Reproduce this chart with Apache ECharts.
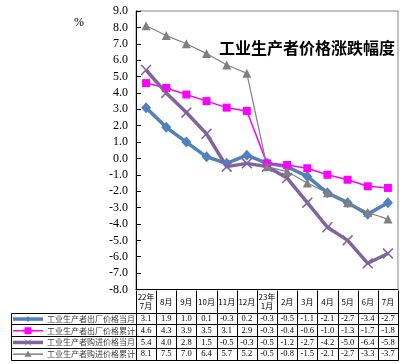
<!DOCTYPE html>
<html><head><meta charset="utf-8">
<script src="https://cdn.jsdelivr.net/npm/echarts@6/dist/echarts.min.js"></script>
<style>html,body{margin:0;padding:0;background:#fff}#c{width:402px;height:364px}</style>
</head><body><div id="c"></div>
<script>
const categories = ['22年\n7月','8月','9月','10月','11月','12月','23年\n1月','2月','3月','4月','5月','6月','7月'];
const seriesNames = ['工业生产者出厂价格当月','工业生产者出厂价格累计','工业生产者购进价格当月','工业生产者购进价格累计'];
const ppiMonthly   = [3.1, 1.9, 1.0, 0.1, -0.3, 0.2, -0.3, -0.5, -1.1, -2.1, -2.7, -3.4, -2.7];
const ppiCumul     = [4.6, 4.3, 3.9, 3.5, 3.1, 2.9, -0.3, -0.4, -0.6, -1.0, -1.3, -1.7, -1.8];
const ppirmMonthly = [5.4, 4.0, 2.8, 1.5, -0.5, -0.3, -0.5, -1.2, -2.7, -4.2, -5.0, -6.4, -5.8];
const ppirmCumul   = [8.1, 7.5, 7.0, 6.4, 5.7, 5.2, -0.5, -0.8, -1.5, -2.1, -2.7, -3.3, -3.7];
const yTicks = {min: -8, max: 9, interval: 1};
const titleText = '工业生产者价格涨跌幅度';
const unitText = '%';

const colors = ['#4F81BD', '#FF00FF', '#8064A2', '#808080'];
const allData = [ppiMonthly, ppiCumul, ppirmMonthly, ppirmCumul];
const crossPath = 'path://M0,1L1,0L5,4L9,0L10,1L6,5L10,9L9,10L5,6L1,10L0,9L4,5Z';

const chart = echarts.init(document.getElementById('c'), null, {renderer: 'canvas'});
const option = {
  animation: false,
  grid: {left: 136, right: 4, top: 11, bottom: 74.5, show: true, borderColor: '#868686', borderWidth: 1},
  xAxis: {type: 'category', data: categories, boundaryGap: true,
    axisLine: {onZero: false, lineStyle: {color: '#000', width: 1}},
    axisTick: {show: false}, axisLabel: {show: false}},
  yAxis: {type: 'value', min: yTicks.min, max: yTicks.max, interval: yTicks.interval,
    axisLine: {show: true, lineStyle: {color: '#000', width: 1}},
    axisTick: {show: true, inside: true, length: 5, lineStyle: {color: '#000'}},
    axisLabel: {formatter: v => v.toFixed(1), color: '#000', fontFamily: 'Liberation Serif', fontSize: 12, margin: 8},
    splitLine: {show: false}},
  series: [
    {name: seriesNames[0], type: 'line', data: ppiMonthly, symbol: 'diamond', symbolSize: [10, 11],
      lineStyle: {color: colors[0], width: 3.5}, itemStyle: {color: colors[0]}},
    {name: seriesNames[1], type: 'line', data: ppiCumul, symbol: 'rect', symbolSize: 8,
      lineStyle: {color: colors[1], width: 1.5}, itemStyle: {color: colors[1]}},
    {name: seriesNames[2], type: 'line', data: ppirmMonthly, symbol: crossPath, symbolSize: 11,
      lineStyle: {color: colors[2], width: 3.5}, itemStyle: {color: colors[2]}},
    {name: seriesNames[3], type: 'line', data: ppirmCumul, symbol: 'triangle', symbolSize: 9,
      lineStyle: {color: colors[3], width: 1.2}, itemStyle: {color: colors[3]}}
  ]
};
chart.setOption(option);

// Build the data table below the plot from axis positions
const centers = categories.map((c, i) => chart.convertToPixel({xAxisIndex: 0}, i));
const band = centers[1] - centers[0];
const bounds = [centers[0] - band / 2].concat(centers.map(c => c + band / 2));
const yTop = chart.convertToPixel({yAxisIndex: 0}, yTicks.min);
const headH = 23.2, rowH = 11.7;
const tableLeft = 11;
const px = v => Math.round(v) + 0.5;
const els = [];
const line = (x1, y1, x2, y2) => els.push({type: 'line', silent: true, z: 10,
  shape: {x1: x1, y1: y1, x2: x2, y2: y2}, style: {stroke: '#000', lineWidth: 1}});
const rowY = [yTop + headH];
for (let r = 1; r <= 4; r++) rowY.push(yTop + headH + r * rowH);
const right = bounds[bounds.length - 1];
// header top (axis line) and verticals
bounds.forEach(b => line(px(b), px(yTop), px(b), px(rowY[4])));
rowY.forEach(y => line(px(tableLeft), px(y), px(right), px(y)));
line(px(tableLeft), px(rowY[0]), px(tableLeft), px(rowY[4]));
// header labels
categories.forEach((c, i) => els.push({type: 'text', silent: true, z: 10,
  style: {text: c, x: centers[i], y: yTop + headH / 2 + 0.5, textAlign: 'center', textVerticalAlign: 'middle',
    font: '8px "Noto Sans CJK SC"', fill: '#000', lineHeight: 9.5}}));
// data cells
allData.forEach((arr, r) => {
  const cy = (rowY[r] + rowY[r + 1]) / 2 + 0.5;
  arr.forEach((v, i) => els.push({type: 'text', silent: true, z: 10,
    style: {text: v.toFixed(1), x: centers[i], y: cy, textAlign: 'center', textVerticalAlign: 'middle',
      font: '8.5px "Liberation Serif"', fill: '#000'}}));
  // legend key
  const lx1 = 13, lx2 = 43, mx = 28;
  els.push({type: 'line', silent: true, z: 10, shape: {x1: lx1, y1: cy, x2: lx2, y2: cy},
    style: {stroke: colors[r], lineWidth: (r === 0 || r === 2) ? 3.5 : 1.5}});
  if (r === 0) els.push({type: 'polygon', silent: true, z: 11, shape: {points: [[mx, cy - 3], [mx + 2.5, cy], [mx, cy + 3], [mx - 2.5, cy]]}, style: {fill: colors[0]}});
  if (r === 1) els.push({type: 'rect', silent: true, z: 11, shape: {x: mx - 3.5, y: cy - 3.5, width: 7, height: 7}, style: {fill: colors[1]}});
  if (r === 2) {
    els.push({type: 'line', silent: true, z: 11, shape: {x1: mx - 3, y1: cy - 3, x2: mx + 3, y2: cy + 3}, style: {stroke: colors[2], lineWidth: 1}});
    els.push({type: 'line', silent: true, z: 11, shape: {x1: mx - 3, y1: cy + 3, x2: mx + 3, y2: cy - 3}, style: {stroke: colors[2], lineWidth: 1}});
  }
  if (r === 3) els.push({type: 'polygon', silent: true, z: 11, shape: {points: [[mx, cy - 3.5], [mx + 3.5, cy + 2.5], [mx - 3.5, cy + 2.5]]}, style: {fill: colors[3]}});
  els.push({type: 'text', silent: true, z: 10,
    style: {text: seriesNames[r], x: 47, y: cy, textAlign: 'left', textVerticalAlign: 'middle',
      font: '8px "Noto Sans CJK SC"', fill: '#404040'}});
});
// title and unit
els.push({type: 'text', silent: true, z: 12, style: {text: titleText, x: 395, y: 48, textAlign: 'right', textVerticalAlign: 'middle',
  font: 'bold 16px "Noto Sans CJK SC"', fill: '#000'}});
els.push({type: 'text', silent: true, z: 12, style: {text: unitText, x: 79, y: 23, textAlign: 'center', textVerticalAlign: 'middle',
  font: '12px "Liberation Serif"', fill: '#000'}});
chart.setOption({graphic: {elements: els}});
</script></body></html>
